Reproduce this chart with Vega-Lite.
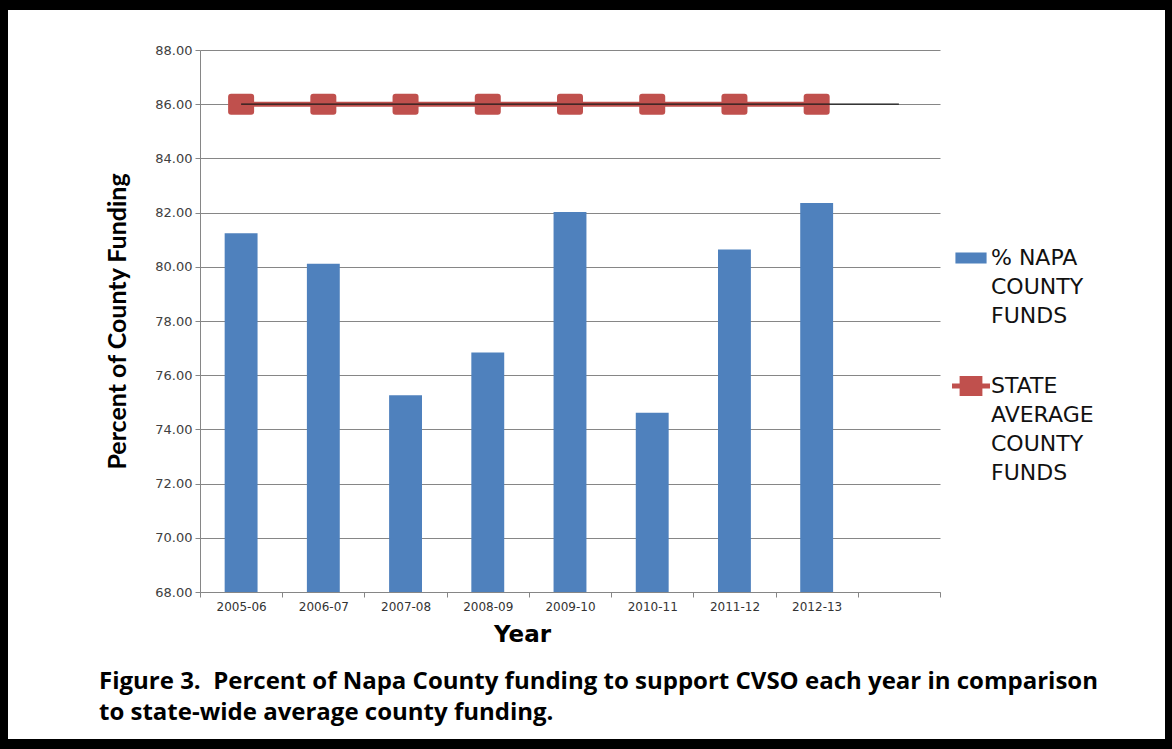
{
  "$schema": "https://vega.github.io/schema/vega-lite/v6.json",
  "width": 740,
  "height": 542,
  "autosize": {"type": "none"},
  "padding": {"left": 200, "top": 50, "right": 232, "bottom": 157},
  "background": "white",
  "datasets": {
    "napa": [
      {"year": "2005-06", "pct": 81.24},
      {"year": "2006-07", "pct": 80.11},
      {"year": "2007-08", "pct": 75.26},
      {"year": "2008-09", "pct": 76.84},
      {"year": "2009-10", "pct": 82.02},
      {"year": "2010-11", "pct": 74.61},
      {"year": "2011-12", "pct": 80.64},
      {"year": "2012-13", "pct": 82.35}
    ],
    "state": [
      {"year": "2005-06", "pct": 86},
      {"year": "2006-07", "pct": 86},
      {"year": "2007-08", "pct": 86},
      {"year": "2008-09", "pct": 86},
      {"year": "2009-10", "pct": 86},
      {"year": "2010-11", "pct": 86},
      {"year": "2011-12", "pct": 86},
      {"year": "2012-13", "pct": 86}
    ],
    "stateTrend": [
      {"year": "2005-06", "pct": 86},
      {"year": " ", "pct": 86}
    ],
    "keys": [
      {"year": "2005-06", "pct": 86, "series": "% NAPA COUNTY FUNDS", "edge": 0},
      {"year": "2005-06", "pct": 86, "series": "STATE AVERAGE COUNTY FUNDS", "edge": 1}
    ]
  },
  "title": {
    "text": [
      "Figure 3.\u00a0 Percent of Napa County funding to support CVSO each year in comparison",
      "to state-wide average county funding."
    ],
    "orient": "bottom",
    "anchor": "start",
    "frame": "group",
    "dx": -101,
    "offset": -85,
    "font": "Open Sans",
    "fontSize": 24,
    "fontWeight": "bold",
    "color": "black",
    "lineHeight": 31
  },
  "encoding": {
    "x": {
      "field": "year",
      "type": "nominal",
      "sort": null,
      "scale": {
        "domain": ["2005-06", "2006-07", "2007-08", "2008-09", "2009-10", "2010-11", "2011-12", "2012-13", " "],
        "paddingInner": 0,
        "paddingOuter": 0
      },
      "axis": {
        "title": "Year",
        "tickBand": "extent",
        "labelAngle": 0,
        "labelFont": "DejaVu Sans",
        "labelFontSize": 12,
        "labelColor": "#333333",
        "labelPadding": 4,
        "tickColor": "#868686",
        "tickSize": 5,
        "domainColor": "#868686",
        "grid": false,
        "titleFont": "DejaVu Sans",
        "titleFontSize": 23,
        "titleFontWeight": "bold",
        "titleColor": "black",
        "titleX": 322,
        "titlePadding": 11
      }
    },
    "y": {
      "field": "pct",
      "type": "quantitative",
      "scale": {"domain": [68, 88], "nice": false, "zero": false},
      "axis": {
        "title": "Percent of County Funding",
        "values": [68, 70, 72, 74, 76, 78, 80, 82, 84, 86, 88],
        "format": ".2f",
        "labelFont": "DejaVu Sans",
        "labelFontSize": 13,
        "labelColor": "#404040",
        "labelPadding": 3,
        "tickColor": "#868686",
        "tickSize": 5,
        "domainColor": "#868686",
        "gridColor": "#868686",
        "titleFont": "Lato",
        "titleFontSize": 25,
        "titleFontWeight": "bold",
        "titleColor": "black",
        "titlePadding": 24
      }
    }
  },
  "layer": [
    {
      "data": {"name": "napa"},
      "mark": {"type": "bar", "color": "#4F81BD", "clip": true, "width": {"band": 0.4}}
    },
    {
      "data": {"name": "state"},
      "mark": {"type": "line", "color": "#C0504D", "strokeWidth": 5}
    },
    {
      "data": {"name": "state"},
      "mark": {
        "type": "point",
        "filled": true,
        "opacity": 1,
        "color": "#C0504D",
        "size": 676,
        "shape": "M-0.77,-0.81H0.77Q1,-0.81 1,-0.58V0.58Q1,0.81 0.77,0.81H-0.77Q-1,0.81 -1,0.58V-0.58Q-1,-0.81 -0.77,-0.81Z"
      }
    },
    {
      "data": {"name": "stateTrend"},
      "mark": {"type": "line", "color": "#1a1a1a", "strokeWidth": 1.2}
    },
    {
      "data": {"name": "keys"},
      "mark": {"type": "point", "filled": true, "opacity": 0},
      "encoding": {
        "color": {
          "field": "series",
          "type": "nominal",
          "scale": {
            "domain": ["% NAPA COUNTY FUNDS", "STATE AVERAGE COUNTY FUNDS"],
            "range": ["#4F81BD", "#C0504D"]
          },
          "legend": {
            "title": null,
            "orient": "none",
            "legendX": 752,
            "legendY": 189,
            "direction": "vertical",
            "columns": 1,
            "symbolSize": 1444,
            "symbolOpacity": 1,
            "symbolStrokeWidth": 0,
            "labelExpr": "datum.label == '% NAPA COUNTY FUNDS' ? ['% NAPA', 'COUNTY', 'FUNDS'] : ['STATE', 'AVERAGE', 'COUNTY', 'FUNDS']",
            "labelFont": "DejaVu Sans",
            "labelFontSize": 22,
            "labelColor": "#111111",
            "labelBaseline": "middle",
            "labelOffset": 1,
            "labelLimit": 300,
            "rowPadding": 40,
            "padding": 0
          }
        },
        "shape": {
          "field": "series",
          "type": "nominal",
          "scale": {
            "domain": ["% NAPA COUNTY FUNDS", "STATE AVERAGE COUNTY FUNDS"],
            "range": [
              "M-0.82,-0.29H0.82V0.29H-0.82Z",
              "M-1,-0.13H1V0.13H-1Z M-0.6,-0.53H0.6V0.53H-0.6Z"
            ]
          },
          "legend": {
            "title": null,
            "orient": "none",
            "legendX": 752,
            "legendY": 189,
            "direction": "vertical",
            "columns": 1,
            "symbolSize": 1444,
            "symbolOpacity": 1,
            "symbolStrokeWidth": 0,
            "labelExpr": "datum.label == '% NAPA COUNTY FUNDS' ? ['% NAPA', 'COUNTY', 'FUNDS'] : ['STATE', 'AVERAGE', 'COUNTY', 'FUNDS']",
            "labelFont": "DejaVu Sans",
            "labelFontSize": 22,
            "labelColor": "#111111",
            "labelBaseline": "middle",
            "labelOffset": 1,
            "labelLimit": 300,
            "rowPadding": 40,
            "padding": 0
          }
        },
        "stroke": {
          "field": "edge",
          "type": "quantitative",
          "scale": {"range": ["rgba(0,0,0,0)", "rgba(0,0,0,0)"]},
          "legend": {
            "title": null,
            "orient": "none",
            "legendX": -200,
            "legendY": -48,
            "direction": "horizontal",
            "gradientLength": 1173,
            "gradientThickness": 744,
            "gradientOpacity": 0,
            "gradientStrokeWidth": 0,
            "labelExpr": "''",
            "labelFontSize": 1,
            "labelOffset": 0,
            "labelOpacity": 0,
            "strokeColor": "black",
            "padding": 0
          }
        }
      }
    }
  ],
  "config": {
    "view": {"stroke": null},
    "legend": {"strokeWidth": 16},
    "style": {"guide-label": {"lineHeight": 29}}
  }
}
